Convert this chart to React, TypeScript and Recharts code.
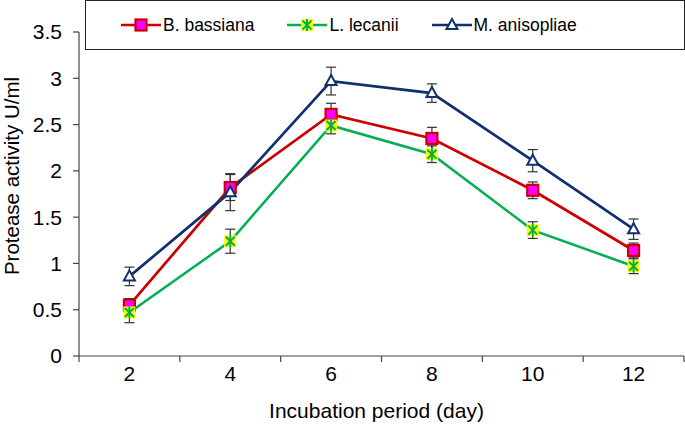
import React from 'react';
import { LineChart, Line, XAxis, YAxis, ErrorBar, Legend } from 'recharts';

const days = [2, 4, 6, 8, 10, 12];
const bassiana = [0.55, 1.82, 2.61, 2.35, 1.79, 1.14];
const bassianaErr = [0.07, 0.14, 0.12, 0.12, 0.09, 0.08];
const lecanii = [0.47, 1.24, 2.49, 2.18, 1.36, 0.97];
const lecaniiErr = [0.11, 0.13, 0.09, 0.09, 0.09, 0.08];
const anisopliae = [0.86, 1.77, 2.97, 2.84, 2.11, 1.37];
const anisopliaeErr = [0.1, 0.2, 0.15, 0.1, 0.12, 0.11];
const yTicks = [0, 0.5, 1, 1.5, 2, 2.5, 3, 3.5];
const seriesNames = ['B. bassiana', 'L. lecanii', 'M. anisopliae'];
const xTitle = 'Incubation period (day)';
const yTitle = 'Protease activity U/ml';

const data = days.map((d, i) => ({
  day: d,
  b: bassiana[i],
  bErr: bassianaErr[i],
  l: lecanii[i],
  lErr: lecaniiErr[i],
  m: anisopliae[i],
  mErr: anisopliaeErr[i],
}));

const boundaryTicks = [...days.map((d) => d - 1), days[days.length - 1] + 1];
const xDomain = [boundaryTicks[0], boundaryTicks[boundaryTicks.length - 1]];

const FONT = '"Liberation Sans", Arial, Helvetica, sans-serif';
const RED = '#CC0000';
const MAGENTA = '#FF00FF';
const GREEN = '#00B050';
const YELLOW = '#FFFF00';
const NAVY = '#10306E';
const AXIS = '#444444';
const ERR = '#333333';

const SquareMark = ({ cx, cy }: { cx: number; cy: number }) => (
  <rect x={cx - 5.5} y={cy - 5.5} width={11} height={11} fill={MAGENTA} stroke={RED} strokeWidth={2.2} />
);
const StarMark = ({ cx, cy }: { cx: number; cy: number }) => (
  <g>
    <rect x={cx - 6} y={cy - 6} width={12} height={12} fill={YELLOW} />
    <line x1={cx - 4.5} y1={cy - 4.5} x2={cx + 4.5} y2={cy + 4.5} stroke={GREEN} strokeWidth={2} />
    <line x1={cx - 4.5} y1={cy + 4.5} x2={cx + 4.5} y2={cy - 4.5} stroke={GREEN} strokeWidth={2} />
    <line x1={cx} y1={cy - 6} x2={cx} y2={cy + 6} stroke={GREEN} strokeWidth={2} />
  </g>
);
const TriMark = ({ cx, cy }: { cx: number; cy: number }) => (
  <polygon
    points={`${cx},${cy - 6} ${cx + 5.5},${cy + 4} ${cx - 5.5},${cy + 4}`}
    fill="#ffffff"
    stroke={NAVY}
    strokeWidth={2}
  />
);

const markers = [SquareMark, StarMark, TriMark];
const lineColors = [RED, GREEN, NAVY];

const dotFor = (Mark: any) => (props: any) => {
  const { cx, cy, index } = props;
  if (cx == null || cy == null) return <g key={`e${index}`} />;
  return <Mark key={`d${index}`} cx={cx} cy={cy} />;
};

const renderLegend = () => (
  <div
    style={{
      boxSizing: 'border-box',
      width: 600,
      height: 50,
      border: '1.5px solid #222',
      background: '#fff',
      display: 'flex',
      alignItems: 'center',
      paddingLeft: 35,
      gap: 33,
      fontFamily: FONT,
      fontSize: 17.5,
      color: '#000',
    }}
  >
    {seriesNames.map((name, i) => {
      const Mark = markers[i];
      return (
        <div key={name} style={{ display: 'flex', alignItems: 'center' }}>
          <svg width={40} height={16} style={{ display: 'block' }}>
            <line x1={0} y1={8} x2={40} y2={8} stroke={lineColors[i]} strokeWidth={2.5} />
            <Mark cx={20} cy={8} />
          </svg>
          <span style={{ marginLeft: 2 }}>{name}</span>
        </div>
      );
    })}
  </div>
);

const YTitle = (props: any) => {
  const vb = props.viewBox || { x: 0, y: 32, width: 79, height: 324 };
  const x = vb.x + 19;
  const y = vb.y + vb.height / 2 - 18;
  return (
    <text x={x} y={y} transform={`rotate(-90 ${x} ${y})`} textAnchor="middle" fontFamily={FONT} fontSize={20.5} fill="#000">
      {yTitle}
    </text>
  );
};

const XTitle = (props: any) => {
  const vb = props.viewBox || { x: 79, y: 357, width: 605, height: 74 };
  const x = vb.x + vb.width / 2 - 5;
  const y = vb.y + 60.5;
  return (
    <text x={x} y={y} textAnchor="middle" fontFamily={FONT} fontSize={21} fill="#000">
      {xTitle}
    </text>
  );
};

export default function App() {
  return (
    <div style={{ position: 'absolute', left: 0, top: 0, width: 685, height: 431, background: '#fff' }}>
      <LineChart width={685} height={431} data={data} margin={{ top: 32, right: 1, left: 0, bottom: 0 }}>
        <XAxis
          xAxisId="bounds"
          dataKey="day"
          type="number"
          domain={xDomain}
          ticks={boundaryTicks}
          interval={0}
          height={1}
          tick={() => <g />}
          tickSize={6}
          axisLine={{ stroke: AXIS, strokeWidth: 1.2 }}
          tickLine={{ stroke: AXIS, strokeWidth: 1.2 }}
        />
        <XAxis
          xAxisId="days"
          dataKey="day"
          type="number"
          domain={xDomain}
          ticks={days}
          interval={0}
          height={74}
          axisLine={false}
          tickLine={false}
          tickSize={0}
          tickMargin={9}
          tick={{ fill: '#000', fontSize: 21, fontFamily: FONT }}
          label={<XTitle />}
        />
        <YAxis
          type="number"
          domain={[0, 3.5]}
          ticks={yTicks}
          interval={0}
          width={79}
          tickSize={6}
          tickMargin={11}
          axisLine={{ stroke: AXIS, strokeWidth: 1.2 }}
          tickLine={{ stroke: AXIS, strokeWidth: 1.2 }}
          tick={{ fill: '#000', fontSize: 21, fontFamily: FONT }}
          label={<YTitle />}
        />
        <Legend
          verticalAlign="middle"
          align="center"
          layout="horizontal"
          content={renderLegend}
          wrapperStyle={{ position: 'absolute', top: 0, left: 85, width: 600, height: 50 }}
        />
        <Line
          xAxisId="days"
          dataKey="b"
          name={seriesNames[0]}
          stroke={RED}
          strokeWidth={2.7}
          dot={dotFor(SquareMark)}
          activeDot={false}
          isAnimationActive={false}
        >
          <ErrorBar dataKey="bErr" direction="y" width={5} stroke={ERR} strokeWidth={1.2} />
        </Line>
        <Line
          xAxisId="days"
          dataKey="l"
          name={seriesNames[1]}
          stroke={GREEN}
          strokeWidth={2.5}
          dot={dotFor(StarMark)}
          activeDot={false}
          isAnimationActive={false}
        >
          <ErrorBar dataKey="lErr" direction="y" width={5} stroke={ERR} strokeWidth={1.2} />
        </Line>
        <Line
          xAxisId="days"
          dataKey="m"
          name={seriesNames[2]}
          stroke={NAVY}
          strokeWidth={2.7}
          dot={dotFor(TriMark)}
          activeDot={false}
          isAnimationActive={false}
        >
          <ErrorBar dataKey="mErr" direction="y" width={5} stroke={ERR} strokeWidth={1.2} />
        </Line>
      </LineChart>
    </div>
  );
}
